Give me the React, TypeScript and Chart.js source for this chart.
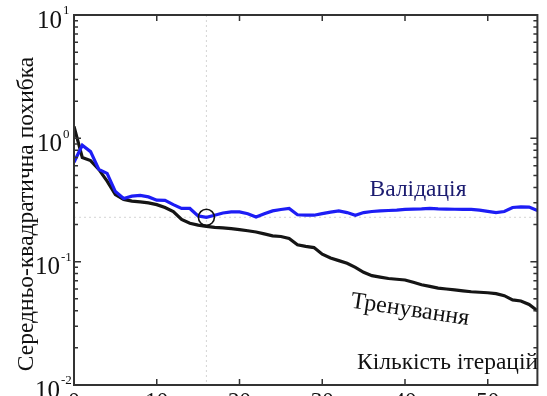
import React, { useEffect, useRef } from "react";
import { Chart, registerables } from "chart.js";

Chart.register(...registerables);

const ITERATIONS: number[] = Array.from({ length: 57 }, (_, i) => i);
const TRAINING: number[] = [
  1.25, 0.7, 0.66, 0.56, 0.45, 0.35, 0.32, 0.31, 0.305, 0.3,
  0.29, 0.275, 0.255, 0.22, 0.205, 0.198, 0.193, 0.19, 0.188, 0.185,
  0.182, 0.178, 0.174, 0.168, 0.162, 0.16, 0.154, 0.137, 0.133, 0.13,
  0.115, 0.107, 0.102, 0.097, 0.09, 0.082, 0.077, 0.075, 0.073, 0.072,
  0.071, 0.068, 0.065, 0.063, 0.061, 0.06, 0.059, 0.058, 0.057, 0.0565,
  0.056, 0.055, 0.053, 0.049, 0.048, 0.045, 0.04,
];
const VALIDATION: number[] = [
  0.64, 0.88, 0.78, 0.56, 0.52, 0.37, 0.325, 0.34, 0.345, 0.335,
  0.315, 0.314, 0.29, 0.27, 0.27, 0.235, 0.229, 0.238, 0.248, 0.253,
  0.253, 0.245, 0.23, 0.245, 0.258, 0.265, 0.27, 0.24, 0.238, 0.238,
  0.245, 0.252, 0.258, 0.25, 0.238, 0.25, 0.255, 0.258, 0.26, 0.262,
  0.265, 0.267, 0.268, 0.27, 0.268, 0.267, 0.266, 0.265, 0.265, 0.262,
  0.256, 0.25, 0.255, 0.275, 0.278, 0.277, 0.26,
];
const BEST_EPOCH = 16;
const BEST_VALUE = 0.229;
const X_TICKS: number[] = [0, 10, 20, 30, 40, 50];
const Y_TICK_EXPONENTS: number[] = [1, 0, -1, -2];
const Y_TITLE = "Середньо-квадратична похибка";
const X_TITLE = "Кількість ітерацій";
const LABEL_VALID = "Валідація";
const LABEL_TRAIN = "Тренування";

const SERIF = '"Liberation Serif", "Times New Roman", serif';

const decorPlugin = {
  id: "decor",
  beforeDatasetsDraw(chart: any) {
    const { ctx, chartArea, scales } = chart;
    const xs = scales.x;
    const ys = scales.y;
    const px = xs.getPixelForValue(BEST_EPOCH);
    const py = ys.getPixelForValue(BEST_VALUE);
    ctx.save();
    ctx.strokeStyle = "#d4d4d4";
    ctx.lineWidth = 1;
    ctx.setLineDash([2, 3]);
    ctx.beginPath();
    ctx.moveTo(px, chartArea.top);
    ctx.lineTo(px, chartArea.bottom);
    ctx.moveTo(chartArea.left, py);
    ctx.lineTo(chartArea.right, py);
    ctx.stroke();
    ctx.restore();
  },
  afterDraw(chart: any) {
    const { ctx, chartArea, scales } = chart;
    const xs = scales.x;
    const ys = scales.y;
    const { left, right, top, bottom } = chartArea;
    ctx.save();
    // frame
    ctx.strokeStyle = "#333";
    ctx.lineWidth = 2;
    ctx.strokeRect(left, top, right - left, bottom - top);
    // x ticks
    ctx.lineWidth = 1.5;
    ctx.beginPath();
    X_TICKS.forEach((v) => {
      const p = xs.getPixelForValue(v);
      ctx.moveTo(p, bottom);
      ctx.lineTo(p, bottom - 6);
      ctx.moveTo(p, top);
      ctx.lineTo(p, top + 6);
    });
    // y ticks (log)
    for (let e = -2; e < 1; e++) {
      for (let m = 1; m <= 9; m++) {
        const v = m * Math.pow(10, e);
        const p = ys.getPixelForValue(v);
        const len = m === 1 ? 7 : 4;
        ctx.moveTo(left, p);
        ctx.lineTo(left + len, p);
        ctx.moveTo(right, p);
        ctx.lineTo(right - len, p);
      }
    }
    ctx.stroke();
    // x labels
    ctx.fillStyle = "#111";
    ctx.font = `23px ${SERIF}`;
    ctx.textAlign = "center";
    ctx.textBaseline = "top";
    X_TICKS.forEach((v) => {
      ctx.fillText(String(v), xs.getPixelForValue(v), bottom + 5);
    });
    // y labels
    Y_TICK_EXPONENTS.forEach((e) => {
      const p = ys.getPixelForValue(Math.pow(10, e));
      const exp = String(e);
      const baseRight = e < 0 ? 60 : 62;
      ctx.textBaseline = "middle";
      ctx.font = `13px ${SERIF}`;
      ctx.textAlign = "left";
      ctx.fillText(exp, baseRight + 1, p - 4);
      ctx.font = `25px ${SERIF}`;
      ctx.textAlign = "right";
      ctx.fillText("10", baseRight, p + 6);
    });
    // y title
    ctx.save();
    ctx.translate(27, 214);
    ctx.rotate(-Math.PI / 2);
    ctx.font = `23.5px ${SERIF}`;
    ctx.textAlign = "center";
    ctx.textBaseline = "middle";
    ctx.fillText(Y_TITLE, 0, 0);
    ctx.restore();
    // x title
    ctx.font = `23.5px ${SERIF}`;
    ctx.textAlign = "right";
    ctx.textBaseline = "middle";
    ctx.fillText(X_TITLE, 538, 363);
    // series labels
    ctx.fillStyle = "#1c1c70";
    ctx.textAlign = "center";
    ctx.font = `23.5px ${SERIF}`;
    ctx.fillText(LABEL_VALID, 418, 190);
    ctx.save();
    ctx.fillStyle = "#111";
    ctx.translate(410, 310);
    ctx.rotate((8.5 * Math.PI) / 180);
    ctx.font = `24px ${SERIF}`;
    ctx.fillText(LABEL_TRAIN, 0, 0);
    ctx.restore();
    ctx.restore();
  },
};

export default function App() {
  const ref = useRef<HTMLCanvasElement | null>(null);
  useEffect(() => {
    if (!ref.current) return;
    const chart = new Chart(ref.current, {
      type: "line",
      data: {
        datasets: [
          {
            label: "best",
            data: [{ x: BEST_EPOCH, y: BEST_VALUE }],
            showLine: false,
            pointRadius: 8,
            pointBorderColor: "#111",
            pointBorderWidth: 1.6,
            pointBackgroundColor: "rgba(0,0,0,0)",
            order: 0,
          },
          {
            label: LABEL_VALID,
            data: ITERATIONS.map((x, i) => ({ x, y: VALIDATION[i] })),
            borderColor: "#1d1df5",
            borderWidth: 3.2,
            pointRadius: 0,
            tension: 0,
            order: 1,
          },
          {
            label: LABEL_TRAIN,
            data: ITERATIONS.map((x, i) => ({ x, y: TRAINING[i] })),
            borderColor: "#151515",
            borderWidth: 3.2,
            pointRadius: 0,
            tension: 0,
            order: 2,
          },
        ],
      },
      options: {
        responsive: false,
        animation: false,
        layout: { padding: { top: 15, right: 2, left: 0, bottom: 0 } },
        plugins: { legend: { display: false }, tooltip: { enabled: false } },
        scales: {
          x: {
            type: "linear",
            min: 0,
            max: 56,
            ticks: { display: false },
            grid: { display: false },
            border: { display: false },
            afterFit: (s: any) => {
              s.height = 35;
            },
          },
          y: {
            type: "logarithmic",
            min: 0.01,
            max: 10,
            ticks: { display: false },
            grid: { display: false },
            border: { display: false },
            afterFit: (s: any) => {
              s.width = 74;
            },
          },
        },
      },
      plugins: [decorPlugin],
    });
    return () => chart.destroy();
  }, []);
  return (
    <div style={{ position: "fixed", left: 0, top: 0, width: 547, height: 420, background: "#fff" }}>
      <canvas ref={ref} width={547} height={420} />
    </div>
  );
}
